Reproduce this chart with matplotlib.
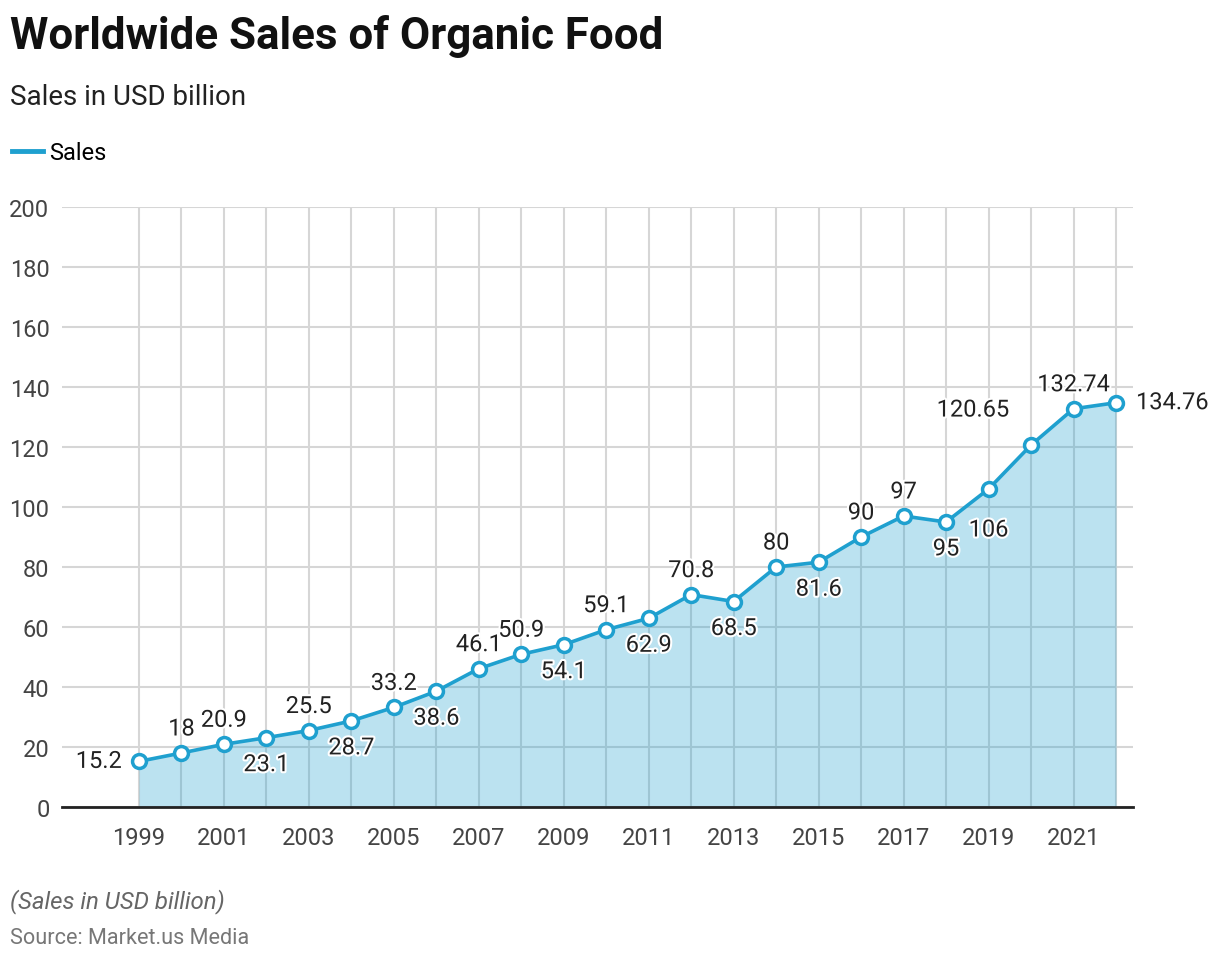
import matplotlib
matplotlib.use("Agg")
import matplotlib.pyplot as plt
import matplotlib.patheffects as pe

plt.rcParams['font.family'] = ['Roboto', 'DejaVu Sans']

# data
years = list(range(1999, 2023))
sales = [15.2, 18, 20.9, 23.1, 25.5, 28.7, 33.2, 38.6, 46.1, 50.9, 54.1, 59.1,
         62.9, 70.8, 68.5, 80, 81.6, 90, 97, 95, 106, 120.65, 132.74, 134.76]
labels = ['15.2', '18', '20.9', '23.1', '25.5', '28.7', '33.2', '38.6', '46.1', '50.9',
          '54.1', '59.1', '62.9', '70.8', '68.5', '80', '81.6', '90', '97', '95', '106',
          '120.65', '132.74', '134.76']
y_ticks = [0, 20, 40, 60, 80, 100, 120, 140, 160, 180, 200]
x_ticks = list(range(1999, 2022, 2))

# label placement (offset in pixels from point)
place = ['L', 'A', 'A', 'B', 'A', 'B', 'A', 'B', 'A', 'A', 'B', 'A',
         'B', 'A', 'B', 'A', 'B', 'A', 'A', 'B', 'B2', 'UL', 'A', 'R']
offs = {'A': (0, 24, 'center'), 'B': (0, -27, 'center'), 'B2': (0, -41, 'center'),
        'L': (-17, 0, 'right'), 'R': (20, 0, 'left'), 'UL': (-58, 35, 'center')}

line_col = '#1fa0cf'

fig = plt.figure(figsize=(12.2, 9.62), dpi=100)
ax = fig.add_axes([62/1220, 154/962, (1133-62)/1220, 600/962])

ax.fill_between(years, sales, 0, color=line_col, alpha=0.3, lw=0, zorder=1)
ax.plot(years, sales, color=line_col, lw=2.6, zorder=3, marker='o', ms=10,
        mfc='white', mec=line_col, mew=2.5, label='Sales')

ax.set_xlim(1997.19, 2022.40)
ax.set_ylim(0, 200)
ax.set_yticks(y_ticks)
ax.set_xticks(x_ticks)
ax.set_xticks(years, minor=True)

ax.grid(True, which='both', axis='x', color='#d6d6d6', lw=1.5)
ax.grid(True, which='major', axis='y', color='#d6d6d6', lw=1.5)
ax.set_axisbelow(True)
for s in ['top', 'right', 'left']:
    ax.spines[s].set_visible(False)
ax.spines['bottom'].set_color('#222222')
ax.spines['bottom'].set_linewidth(2)
ax.spines['bottom'].set_zorder(4)
ax.tick_params(axis='both', which='both', length=0, labelsize=17, labelcolor='#444444')
ax.tick_params(axis='x', pad=14)
ax.tick_params(axis='y', pad=9)

for x, y, t, p in zip(years, sales, labels, place):
    dx, dy, ha = offs[p]
    ax.annotate(t, (x, y), xytext=(dx, dy), textcoords='offset pixels',
                ha=ha, va='center', fontsize=17, color='#222222', zorder=5,
                path_effects=[pe.withStroke(linewidth=3, foreground='white')])

fig.text(10/1220, 1 - 36/962, 'Worldwide Sales of Organic Food', fontsize=31.6,
         fontweight='bold', color='#111111', va='center', ha='left')
fig.text(10/1220, 1 - 98/962, 'Sales in USD billion', fontsize=20,
         color='#222222', va='center', ha='left')
leg = ax.legend(loc='center left', bbox_to_anchor=(0, 1 - 154/962),
                bbox_transform=fig.transFigure, frameon=False, fontsize=17,
                handlelength=1.3, handletextpad=0.3, borderaxespad=0, borderpad=0.5)
for h in leg.legend_handles:
    h.set_marker('')
    h.set_linewidth(3.5)
fig.text(10/1220, 1 - 902/962, '(Sales in USD billion)', fontsize=17.3,
         style='italic', color='#666666', va='center', ha='left')
fig.text(10/1220, 1 - 939/962, 'Source: Market.us Media', fontsize=15.6,
         color='#777777', va='center', ha='left')

fig.savefig('out.png', dpi=100)
